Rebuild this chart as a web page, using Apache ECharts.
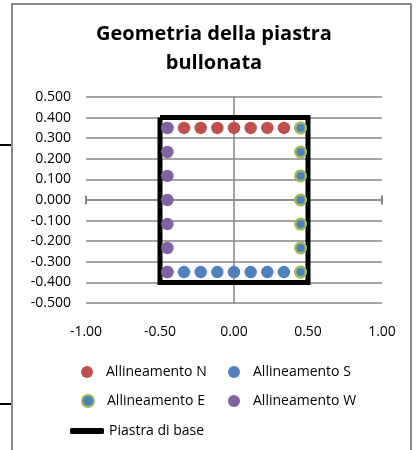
<!DOCTYPE html>
<html>
<head>
<meta charset="utf-8">
<script src="https://cdn.jsdelivr.net/npm/echarts@6/dist/echarts.min.js"></script>
<style>
html,body{margin:0;padding:0;background:#fff;}
#c{width:416px;height:450px;}
</style>
</head>
<body>
<div id="c"></div>
<script>
// ---- data ----
var titleText = 'Geometria della piastra\nbullonata';
var seriesNames = ['Allineamento N', 'Allineamento S', 'Allineamento E', 'Allineamento W', 'Piastra di base'];
var rowX = [-0.45, -0.3375, -0.225, -0.1125, 0, 0.1125, 0.225, 0.3375, 0.45];
var northY = 0.35;
var southY = -0.35;
var colY = [0.35, 0.233, 0.117, 0, -0.117, -0.233, -0.35];
var eastX = 0.45;
var westX = -0.45;
var plateX = [-0.5, 0.5, 0.5, -0.5, -0.5];
var plateY = [0.4, 0.4, -0.4, -0.4, 0.4];
var xTicks = [-1, -0.5, 0, 0.5, 1];
var yTicks = [-0.5, -0.4, -0.3, -0.2, -0.1, 0, 0.1, 0.2, 0.3, 0.4, 0.5];

var FONT = '"Open Sans", sans-serif';
var colN = '#C0504D', colS = '#4F81BD', colE = '#4F81BD', colEb = '#9BBB59', colW = '#8064A2';

function pts(xs, ys) {
  var n = Math.max(Array.isArray(xs) ? xs.length : 1, Array.isArray(ys) ? ys.length : 1);
  var out = [];
  for (var i = 0; i < n; i++) {
    out.push([Array.isArray(xs) ? xs[i] : xs, Array.isArray(ys) ? ys[i] : ys]);
  }
  return out;
}

var chart = echarts.init(document.getElementById('c'), null, {renderer: 'canvas'});
var legendCommon = {
  orient: 'horizontal', itemHeight: 12, itemWidth: 28, padding: 0, selectedMode: false,
  textStyle: {fontFamily: FONT, fontSize: 14, color: '#000'}
};
function lg(name, left, top, extra) {
  var o = Object.assign({}, legendCommon, {data: [name], left: left, top: top});
  return Object.assign(o, extra || {});
}

var option = {
  backgroundColor: '#fff',
  animation: false,
  title: {
    text: titleText, left: 209, textAlign: 'center', top: 15,
    textStyle: {fontFamily: FONT, fontWeight: 'bold', fontSize: 20, color: '#000', lineHeight: 29}
  },
  grid: {left: 86, right: 34, top: 97, bottom: 147, containLabel: false},
  xAxis: [{
    type: 'value', position: 'bottom', min: xTicks[0], max: xTicks[xTicks.length - 1], interval: 0.5,
    axisLine: {show: false}, axisTick: {show: false}, splitLine: {show: false},
    axisLabel: {fontFamily: FONT, fontSize: 14, color: '#000', margin: 22, formatter: function (v) { return v.toFixed(2); }}
  }, {
    type: 'value', position: 'top', min: xTicks[0], max: xTicks[xTicks.length - 1], interval: 0.5,
    axisLine: {show: true, onZero: true, onZeroAxisIndex: 0, lineStyle: {color: '#868686', width: 1.5},
      symbol: ['rect', 'rect'], symbolSize: [9, 2]},
    axisTick: {show: false}, axisLabel: {show: false}, splitLine: {show: false}
  }],
  yAxis: [{
    type: 'value', position: 'left', min: yTicks[0], max: yTicks[yTicks.length - 1], interval: 0.1,
    axisLine: {show: false}, axisTick: {show: false},
    splitLine: {show: true, lineStyle: {color: '#868686', width: 1.5}},
    axisLabel: {fontFamily: FONT, fontSize: 14, color: '#000', margin: 15, formatter: function (v) { return v.toFixed(3); }}
  }, {
    type: 'value', position: 'right', min: yTicks[0], max: yTicks[yTicks.length - 1], interval: 0.1,
    axisLine: {show: true, onZero: true, onZeroAxisIndex: 0, lineStyle: {color: '#868686', width: 1.5}},
    axisTick: {show: false}, axisLabel: {show: false}, splitLine: {show: false}
  }],
  legend: [
    lg(seriesNames[0], 81, 365),
    lg(seriesNames[1], 228, 365),
    lg(seriesNames[2], 81, 394),
    lg(seriesNames[3], 228, 394),
    lg(seriesNames[4], 70, 424, {itemWidth: 34, itemHeight: 6, icon: 'roundRect'})
  ],
  series: [
    {name: seriesNames[4], type: 'line', data: pts(plateX, plateY), symbol: 'none',
      lineStyle: {color: '#000', width: 5, join: 'miter'}, itemStyle: {color: '#000'}, z: 1},
    {name: seriesNames[0], type: 'scatter', data: pts(rowX, northY), symbolSize: 12.5,
      itemStyle: {color: colN, opacity: 1}, z: 2},
    {name: seriesNames[1], type: 'scatter', data: pts(rowX, southY), symbolSize: 12.5,
      itemStyle: {color: colS, opacity: 1}, z: 2},
    {name: seriesNames[2], type: 'scatter', data: pts(eastX, colY), symbolSize: 10.5,
      itemStyle: {color: colE, borderColor: colEb, borderWidth: 2.5, opacity: 1}, z: 3},
    {name: seriesNames[3], type: 'scatter', data: pts(westX, colY), symbolSize: 12.5,
      itemStyle: {color: colW, opacity: 1}, z: 4}
  ],
  graphic: [
    {type: 'polyline', shape: {points: [[12, 450], [12, 4], [411, 4], [411, 450]]},
      style: {stroke: '#8a8a8a', lineWidth: 2, fill: null}, silent: true},
    {type: 'line', shape: {x1: 0, y1: 145, x2: 11, y2: 145}, style: {stroke: '#000', lineWidth: 2}, silent: true},
    {type: 'line', shape: {x1: 0, y1: 404, x2: 11, y2: 404}, style: {stroke: '#000', lineWidth: 2}, silent: true}
  ]
};
chart.setOption(option);
</script>
</body>
</html>
